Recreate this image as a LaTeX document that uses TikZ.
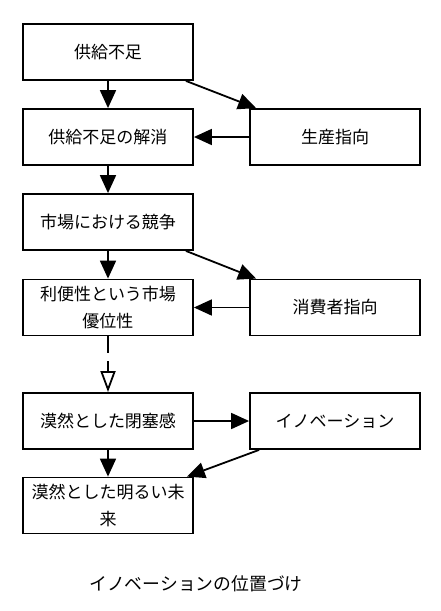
\documentclass[tikz,border=0pt]{standalone}
\usepackage{fontspec}
\newfontfamily\jpfont{Noto Sans CJK JP}
\usetikzlibrary{arrows.meta}
\tikzset{%
stagebox/.style={draw, line width=1.8pt, minimum width=170pt, minimum height=56pt, inner sep=0pt, align=center, font=\jpfont\fontsize{17}{26.5}\selectfont},%
flow/.style={line width=1.8pt, -{Triangle[length=18pt,width=16pt]}},%
vague/.style={line width=1.8pt, dash pattern=on 17pt off 8pt, -{Triangle[open,length=21pt,width=15pt]}},%
}
\begin{document}
\begin{tikzpicture}[x=1pt, y=-1pt]%
\useasboundingbox (0, 0) rectangle (440, 611);%
\node[stagebox] (short) at (108, 52) {供給不足};%
\node[stagebox] (solve) at (108, 137) {供給不足の解消};%
\node[stagebox] (compete) at (108, 222) {市場における競争};%
\node[stagebox] (benefit) at (108, 307.5) {利便性という市場\\優位性};%
\node[stagebox] (closed) at (108, 421) {漠然とした閉塞感};%
\node[stagebox] (future) at (108, 505.5) {漠然とした明るい未\\来};%
\node[stagebox] (produce) at (335, 137) {生産指向};%
\node[stagebox] (consume) at (335, 307.5) {消費者指向};%
\node[stagebox] (innov) at (335, 421) {イノベーション};%
\node[font=\jpfont\fontsize{17.8}{20}\selectfont] (title) at (196, 584) {イノベーションの位置づけ};%
\draw[flow] (short) -- (solve);%
\draw[flow] (solve) -- (compete);%
\draw[flow] (compete) -- (benefit);%
\draw[vague] (benefit) -- (closed);%
\draw[flow] (closed) -- (future);%
\draw[flow] ([xshift=-8pt]short.south east) -- ([xshift=7pt]produce.north west);%
\draw[flow] (produce) -- (solve);%
\draw[flow] ([xshift=-8pt]compete.south east) -- ([xshift=7pt]consume.north west);%
\draw[flow] (consume) -- (benefit);%
\draw[flow] (closed) -- (innov);%
\draw[flow] ([xshift=10pt]innov.south west) -- ([xshift=-7pt]future.north east);%
\end{tikzpicture}
\end{document}
